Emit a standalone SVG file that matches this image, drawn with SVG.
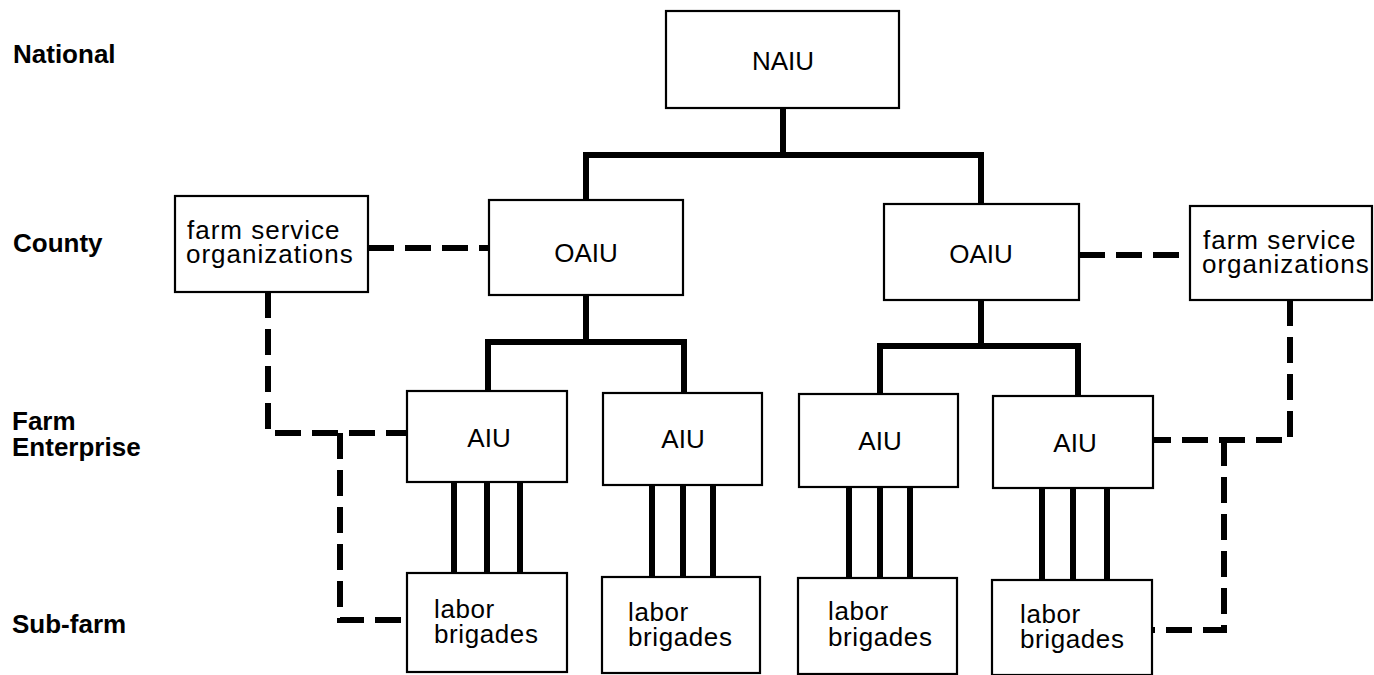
<svg xmlns="http://www.w3.org/2000/svg" width="1374" height="675" viewBox="0 0 1374 675">
<style>
.box{fill:#fff;stroke:#000;stroke-width:2.2}
.t{font-family:"Liberation Sans",Arial,sans-serif;font-size:26px;fill:#000}
.c{text-anchor:middle}
.lab{font-family:"Liberation Sans",Arial,sans-serif;font-size:26px;font-weight:bold;fill:#000}
.sp{letter-spacing:0.6px}
.sp2{letter-spacing:1px}
.solid{fill:none;stroke:#000;stroke-width:6;stroke-linejoin:miter;stroke-linecap:butt}
.dash{fill:none;stroke:#000;stroke-width:6;stroke-dasharray:26 11}
</style>
<rect width="1374" height="675" fill="#fff"/>
<g id="levels">
<text class="lab" x="13" y="63">National</text>
<text class="lab" x="13" y="252">County</text>
<text class="lab" x="12" y="430">Farm</text>
<text class="lab" x="12" y="456">Enterprise</text>
<text class="lab" x="12" y="633">Sub-farm</text>
</g>
<g id="connectors">
<path class="solid" d="M783 108 V155 M586 200 V155 H981 V204"/>
<path class="solid" d="M586 295 V342 M488 392 V342 H684 V394"/>
<path class="solid" d="M981 300 V346 M880 395 V346 H1078 V397"/>
<path class="solid" d="M454 482 V573 M487 482 V573 M520 482 V573"/>
<path class="solid" d="M652 485 V577 M683 485 V577 M713 485 V577"/>
<path class="solid" d="M849 487 V578 M880 487 V578 M910 487 V578"/>
<path class="solid" d="M1042 488 V580 M1073 488 V580 M1107 488 V580"/>
<path class="dash" d="M368 248 H489"/>
<path class="dash" d="M1079 255 H1190"/>
<path class="dash" d="M268 292 V433 H407"/>
<path class="dash" d="M340 433 V620 H407"/>
<path class="dash" d="M1290 300 V440 H1153"/>
<path class="dash" d="M1224 440 V630 H1152"/>
</g>
<g id="naiu"><rect class="box" x="666" y="11" width="233" height="97"/><text class="t c" x="783" y="70">NAIU</text></g>
<g id="oaiu-left"><rect class="box" x="489" y="200" width="194" height="95"/><text class="t c" x="586" y="262">OAIU</text></g>
<g id="oaiu-right"><rect class="box" x="884" y="204" width="195" height="96"/><text class="t c" x="981" y="263">OAIU</text></g>
<g id="fso-left"><rect class="box" x="175" y="196" width="193" height="96"/><text class="t sp2" x="187" y="239">farm service</text><text class="t sp2" x="186" y="263">organizations</text></g>
<g id="fso-right"><rect class="box" x="1190" y="206" width="182" height="94"/><text class="t sp2" x="1203" y="249">farm service</text><text class="t sp2" x="1202" y="273">organizations</text></g>
<g id="aiu-1"><rect class="box" x="407" y="391" width="160" height="91"/><text class="t c" x="489" y="447">AIU</text></g>
<g id="aiu-2"><rect class="box" x="603" y="393" width="159" height="92"/><text class="t c" x="683" y="448">AIU</text></g>
<g id="aiu-3"><rect class="box" x="799" y="394" width="159" height="93"/><text class="t c" x="880" y="450">AIU</text></g>
<g id="aiu-4"><rect class="box" x="993" y="396" width="160" height="92"/><text class="t c" x="1075" y="452">AIU</text></g>
<g id="labor-1"><rect class="box" x="407" y="573" width="160" height="99"/><text class="t sp" x="434" y="618">labor</text><text class="t sp" x="434" y="643">brigades</text></g>
<g id="labor-2"><rect class="box" x="602" y="577" width="158" height="96"/><text class="t sp" x="628" y="621">labor</text><text class="t sp" x="628" y="646">brigades</text></g>
<g id="labor-3"><rect class="box" x="798" y="578" width="159" height="96"/><text class="t sp" x="828" y="620">labor</text><text class="t sp" x="828" y="646">brigades</text></g>
<g id="labor-4"><rect class="box" x="992" y="580" width="160" height="95"/><text class="t sp" x="1020" y="623">labor</text><text class="t sp" x="1020" y="648">brigades</text></g>
</svg>
